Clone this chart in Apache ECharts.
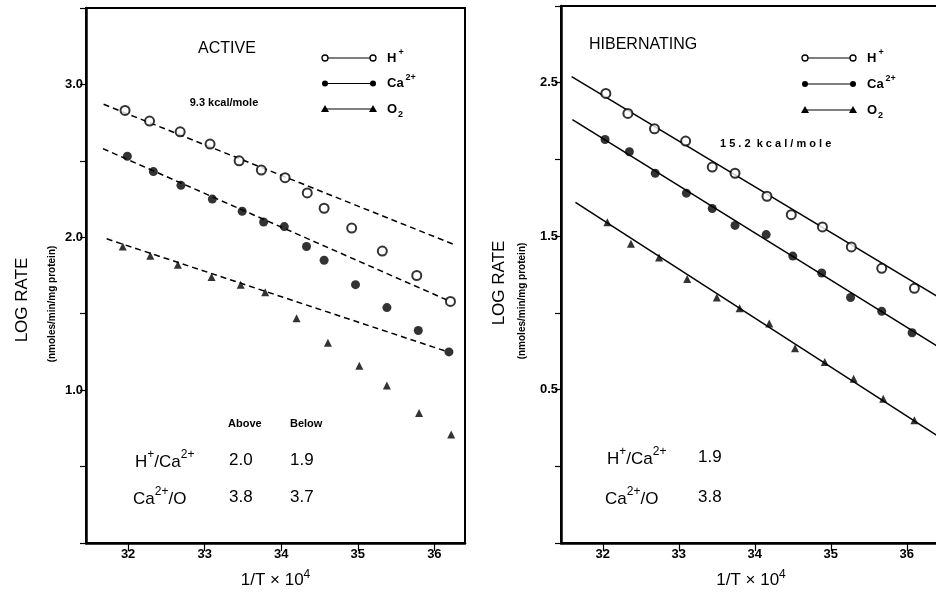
<!DOCTYPE html>
<html>
<head>
<meta charset="utf-8">
<script src="https://cdn.jsdelivr.net/npm/echarts@6/dist/echarts.min.js"></script>
<style>
  html, body { margin: 0; padding: 0; background: #fff; }
  #chart { width: 936px; height: 592px; }
</style>
</head>
<body>
<div id="chart"></div>
<script>
// x = 1/T x 10^4, y = log rate
var xTicks = [32, 33, 34, 35, 36];

// ACTIVE panel
var activeH = [[31.96, 2.83], [32.28, 2.76], [32.68, 2.69], [33.07, 2.61], [33.45, 2.50], [33.74, 2.44], [34.05, 2.39],
  [34.34, 2.29], [34.56, 2.19], [34.92, 2.06], [35.32, 1.91], [35.77, 1.75], [36.21, 1.58]];
var activeCa = [[31.99, 2.53], [32.33, 2.43], [32.69, 2.34], [33.10, 2.25], [33.49, 2.17], [33.77, 2.10], [34.04, 2.07],
  [34.33, 1.94], [34.56, 1.85], [34.97, 1.69], [35.38, 1.54], [35.79, 1.39], [36.19, 1.25]];
var activeO2 = [[31.93, 1.94], [32.29, 1.88], [32.65, 1.82], [33.09, 1.74], [33.47, 1.69], [33.79, 1.64],
  [34.20, 1.47], [34.61, 1.31], [35.02, 1.16], [35.38, 1.03], [35.80, 0.85], [36.22, 0.71]];
var activeFitH = [[31.68, 2.87], [36.27, 1.95]];
var activeFitCa = [[31.67, 2.58], [36.21, 1.58]];
var activeFitO2 = [[31.72, 1.99], [36.18, 1.25]];

// HIBERNATING panel
var hibH = [[32.04, 2.43], [32.33, 2.30], [32.68, 2.20], [33.09, 2.12], [33.44, 1.95], [33.74, 1.91],
  [34.16, 1.76], [34.48, 1.64], [34.89, 1.56], [35.27, 1.43], [35.67, 1.29], [36.10, 1.16]];
var hibCa = [[32.03, 2.13], [32.35, 2.05], [32.69, 1.91], [33.10, 1.78], [33.44, 1.68], [33.74, 1.57],
  [34.15, 1.51], [34.50, 1.37], [34.88, 1.26], [35.26, 1.10], [35.67, 1.01], [36.07, 0.87]];
var hibO2 = [[32.06, 1.59], [32.37, 1.45], [32.74, 1.36], [33.11, 1.22], [33.50, 1.10], [33.80, 1.03],
  [34.19, 0.93], [34.53, 0.77], [34.92, 0.68], [35.30, 0.57], [35.69, 0.44], [36.10, 0.30]];
var hibFitH = [[31.59, 2.54], [36.46, 1.09]];
var hibFitCa = [[31.60, 2.26], [36.41, 0.78]];
var hibFitO2 = [[31.64, 1.72], [36.40, 0.20]];

var FONT = '"Liberation Sans", Arial, sans-serif';

var myChart = echarts.init(document.getElementById('chart'));

function pts(data, gi, symbol, size) {
    return {
        type: 'scatter', xAxisIndex: gi, yAxisIndex: gi, data: data,
        symbol: symbol, symbolSize: size, silent: true, z: 4,
        itemStyle: { color: '#000', borderColor: '#000', borderWidth: symbol === 'emptyCircle' ? 1.4 : 0 }
    };
}
function fit(data, gi, dashed) {
    return {
        type: 'line', xAxisIndex: gi, yAxisIndex: gi, data: data, symbol: 'none', silent: true, z: 3,
        lineStyle: { color: '#000', width: 1.5, type: dashed ? [6, 4] : 'solid' }
    };
}
function xAx(gi) {
    return {
        type: 'value', gridIndex: gi, min: 31.45, max: gi === 0 ? 36.4 : 36.45,
        splitLine: { show: false },
        axisLine: { onZero: false, lineStyle: { color: '#000', width: 2.5 } },
        axisTick: { length: 8, lineStyle: { color: '#000', width: 1.2 }, customValues: xTicks },
        axisLabel: { customValues: xTicks, color: '#000', fontFamily: FONT, fontWeight: 'bold', fontSize: 13, margin: 5 },
        name: '{a|1/T × 10}{s|4}', nameLocation: 'middle', nameGap: 26,
        nameTextStyle: {
            rich: {
                a: { fontFamily: FONT, fontSize: 17, color: '#000', lineHeight: 20, verticalAlign: 'bottom' },
                s: { fontFamily: FONT, fontSize: 12, color: '#000', lineHeight: 20, verticalAlign: 'top' }
            }
        }
    };
}
function yAx(gi, min, max, labelFn) {
    return {
        type: 'value', gridIndex: gi, min: min, max: max, interval: 0.5,
        splitLine: { show: false },
        axisLine: { onZero: false, lineStyle: { color: '#000', width: 2.5 } },
        axisTick: { length: 6, lineStyle: { color: '#000', width: 1.2 } },
        axisLabel: { color: '#000', fontFamily: FONT, fontWeight: 'bold', fontSize: 13, margin: 3, formatter: labelFn }
    };
}

function legend(x0, y0, step) {
    var items = [];
    var labels = ['{t|H}{p|+}', '{t|Ca}{p|2+}', '{t|O}{b|2}'];
    for (var i = 0; i < 3; i++) {
        var y = y0 + i * step;
        items.push({ type: 'line', shape: { x1: x0, y1: y, x2: x0 + 48, y2: y }, style: { stroke: '#000', lineWidth: 1.2 } });
        if (i === 0) {
            items.push({ type: 'circle', shape: { cx: x0, cy: y, r: 3 }, style: { fill: '#fff', stroke: '#000', lineWidth: 1.3 }, z: 2 });
            items.push({ type: 'circle', shape: { cx: x0 + 48, cy: y, r: 3 }, style: { fill: '#fff', stroke: '#000', lineWidth: 1.3 }, z: 2 });
        } else if (i === 1) {
            items.push({ type: 'circle', shape: { cx: x0, cy: y, r: 3 }, style: { fill: '#000' } });
            items.push({ type: 'circle', shape: { cx: x0 + 48, cy: y, r: 3 }, style: { fill: '#000' } });
        } else {
            items.push({ type: 'polygon', shape: { points: [[x0, y - 4], [x0 - 4, y + 3], [x0 + 4, y + 3]] }, style: { fill: '#000' } });
            items.push({ type: 'polygon', shape: { points: [[x0 + 48, y - 4], [x0 + 44, y + 3], [x0 + 52, y + 3]] }, style: { fill: '#000' } });
        }
        items.push({
            type: 'text', x: x0 + 62, y: y,
            style: {
                text: labels[i], textVerticalAlign: 'middle',
                rich: {
                    t: { fontFamily: FONT, fontWeight: 'bold', fontSize: 13, fill: '#000', lineHeight: 20, verticalAlign: 'middle' },
                    p: { fontFamily: FONT, fontWeight: 'bold', fontSize: 9, fill: '#000', lineHeight: 20, verticalAlign: 'top', padding: [0, 0, 0, 2] },
                    b: { fontFamily: FONT, fontWeight: 'bold', fontSize: 9, fill: '#000', lineHeight: 20, verticalAlign: 'bottom', padding: [0, 0, 0, 1] }
                }
            }
        });
    }
    return items;
}

var ratioRich = {
    t: { fontFamily: FONT, fontSize: 17, fill: '#000', lineHeight: 22, verticalAlign: 'bottom' },
    p: { fontFamily: FONT, fontSize: 12, fill: '#000', lineHeight: 22, verticalAlign: 'top' }
};
function txt(x, y, text, font, align) {
    return { type: 'text', x: x, y: y, style: { text: text, font: font, fill: '#000', textAlign: align || 'left', textVerticalAlign: 'middle' } };
}
function rtxt(x, y, text) {
    return { type: 'text', x: x, y: y, style: { text: text, textVerticalAlign: 'middle', rich: ratioRich } };
}
function vtxt(x, y, text, font) {
    return { type: 'text', x: x, y: y, rotation: Math.PI / 2, style: { text: text, font: font, fill: '#000', textAlign: 'center', textVerticalAlign: 'middle' } };
}

var graphics = [].concat(
    [
        txt(227, 49, 'ACTIVE', '16px ' + FONT, 'center'),
        txt(224, 103, '9.3 kcal/mole', 'bold 11px ' + FONT, 'center'),
        txt(589, 45, 'HIBERNATING', '16px ' + FONT),
        txt(720, 144, '1 5 . 2  k c a l / m o l e', 'bold 11px ' + FONT),
        vtxt(22, 300, 'LOG RATE', '17px ' + FONT),
        vtxt(52, 304, '(nmoles/min/mg protein)', 'bold 10px ' + FONT),
        vtxt(499, 283, 'LOG RATE', '17px ' + FONT),
        vtxt(522, 301, '(nmoles/min/mg protein)', 'bold 10px ' + FONT),
        txt(228, 424, 'Above', 'bold 11px ' + FONT),
        txt(290, 424, 'Below', 'bold 11px ' + FONT),
        rtxt(135, 460, '{t|H}{p|+}{t|/Ca}{p|2+}'),
        txt(229, 460, '2.0', '17px ' + FONT),
        txt(290, 460, '1.9', '17px ' + FONT),
        rtxt(133, 497, '{t|Ca}{p|2+}{t|/O}'),
        txt(229, 497, '3.8', '17px ' + FONT),
        txt(290, 497, '3.7', '17px ' + FONT),
        rtxt(607, 457, '{t|H}{p|+}{t|/Ca}{p|2+}'),
        txt(698, 457, '1.9', '17px ' + FONT),
        rtxt(605, 497, '{t|Ca}{p|2+}{t|/O}'),
        txt(698, 497, '3.8', '17px ' + FONT)
    ],
    legend(325, 58, 25.5),
    legend(805, 58, 26)
);

myChart.setOption({
    animation: false,
    backgroundColor: '#fff',
    grid: [
        { left: 86, top: 8, width: 379, height: 535, show: true, borderColor: '#000', borderWidth: 2, outerBoundsMode: 'none' },
        { left: 561, top: 6, width: 380, height: 537, show: true, borderColor: '#000', borderWidth: 2, outerBoundsMode: 'none' }
    ],
    xAxis: [xAx(0), xAx(1)],
    yAxis: [
        yAx(0, 0, 3.5, function (v) { return (v > 0.1 && Math.abs(v - Math.round(v)) < 0.01) ? v.toFixed(1) : ''; }),
        yAx(1, -0.5, 3, function (v) { return (v > 0.1 && v < 2.9 && Math.abs(v - Math.round(v)) > 0.25) ? v.toFixed(1) : ''; })
    ],
    series: [
        fit(activeFitH, 0, true), fit(activeFitCa, 0, true), fit(activeFitO2, 0, true),
        pts(activeH, 0, 'emptyCircle', 9), pts(activeCa, 0, 'circle', 9), pts(activeO2, 0, 'triangle', 8),
        fit(hibFitH, 1, false), fit(hibFitCa, 1, false), fit(hibFitO2, 1, false),
        pts(hibH, 1, 'emptyCircle', 9), pts(hibCa, 1, 'circle', 9), pts(hibO2, 1, 'triangle', 8)
    ],
    graphic: graphics
});
</script>
</body>
</html>
